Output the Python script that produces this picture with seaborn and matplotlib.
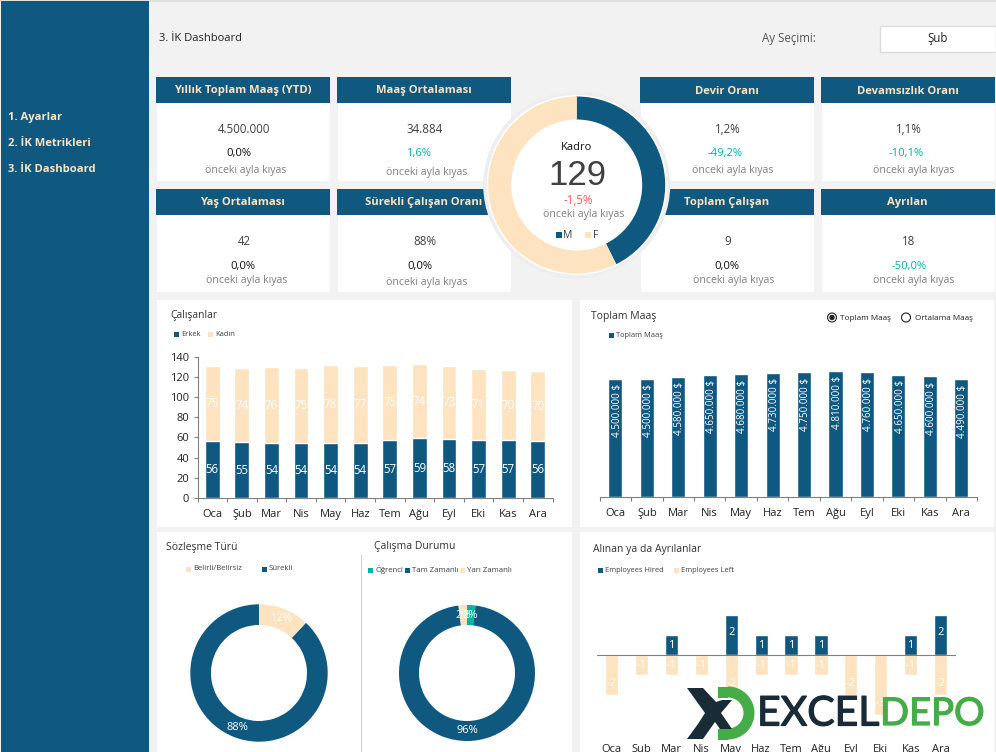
import matplotlib
matplotlib.use("Agg")
import matplotlib.pyplot as plt
from matplotlib.patches import Rectangle, Circle, Wedge, Polygon
import matplotlib.patheffects as pe
import seaborn as sns
import pandas as pd

# ---- data ----
months = ["Oca", "Şub", "Mar", "Nis", "May", "Haz", "Tem", "Ağu", "Eyl", "Eki", "Kas", "Ara"]
erkek = [56, 55, 54, 54, 54, 54, 57, 59, 58, 57, 57, 56]
kadin = [75, 74, 76, 75, 78, 77, 75, 74, 73, 71, 70, 70]
toplam_maas = [4500000, 4500000, 4580000, 4650000, 4680000, 4730000, 4750000, 4810000, 4760000, 4650000, 4600000, 4490000]
hired = [0, 0, 1, 0, 2, 1, 1, 1, 0, 0, 1, 2]
left_emp = [-2, -1, -1, -1, -2, -1, -1, -1, -2, -3, -1, -2]
kadro_vals = [55, 74]
sozlesme_vals = [12, 88]
calisma_vals = [2, 96, 2]
card_titles = ["Yıllık Toplam Maaş (YTD)", "Maaş Ortalaması", "Devir Oranı", "Devamsızlık Oranı",
               "Yaş Ortalaması", "Sürekli Çalışan Oranı", "Toplam Çalışan", "Ayrılan"]
card_values = ["4.500.000", "34.884", "1,2%", "1,1%", "42", "88%", "9", "18"]
card_deltas = ["0,0%", "1,6%", "-49,2%", "-10,1%", "0,0%", "0,0%", "0,0%", "-50,0%"]
note = "önceki ayla kıyas"

# ---- style ----
NAVY = "#0f5880"
CREAM = "#fde3c0"
TEAL = "#00b3a4"
BG = "#f2f2f2"
GREY = "#808080"
TXT = "#404040"
sns.set_theme(style="white")
plt.rcParams["font.family"] = ["Open Sans", "DejaVu Sans"]

W, H = 996, 752
fig = plt.figure(figsize=(W / 100, H / 100), dpi=100, facecolor=BG)


def px_axes(x0, y0, x1, y1, **kw):
    return fig.add_axes([x0 / W, 1 - y1 / H, (x1 - x0) / W, (y1 - y0) / H], **kw)


bg = px_axes(0, 0, W, H, zorder=0)
bg.set_xlim(0, W); bg.set_ylim(H, 0); bg.axis("off")
fg = px_axes(0, 0, W, H, zorder=20)
fg.set_xlim(0, W); fg.set_ylim(H, 0); fg.axis("off"); fg.patch.set_alpha(0)


def rect(ax, x0, y0, x1, y1, color, **kw):
    ax.add_patch(Rectangle((x0, y0), x1 - x0, y1 - y0, facecolor=color, edgecolor="none", **kw))


def txt(ax, x, y, s, size=8, color=TXT, ha="center", weight="normal", **kw):
    return ax.text(x, y + 1, s, fontsize=size, color=color, ha=ha, va="center", fontweight=weight, **kw)


def legend_item(x, y, color, label, size=5.4, sq=5):
    rect(fg, x, y - sq / 2, x + sq, y + sq / 2, color)
    txt(fg, x + sq + 2, y - 1, label, size=size, ha="left")


# page chrome
rect(bg, 0, 0, W, 1.5, "#e0e0e0")
rect(bg, 1, 1, 149, H, NAVY)
for y, s in zip([116.5, 142.5, 168.5], ["1. Ayarlar", "2. İK Metrikleri", "3. İK Dashboard"]):
    txt(bg, 8, y, s, size=8.1, color=CREAM, ha="left", weight="bold")
txt(bg, 159, 37.5, "3. İK Dashboard", size=8.0, color="#222222", ha="left")
txt(bg, 762, 37.5, "Ay Seçimi:", size=8.3, color="#555555", ha="left")
bg.add_patch(Rectangle((879.5, 25.5), 116, 26, facecolor="white", edgecolor="#dcdcdc", lw=1))
txt(bg, 938, 37.5, months[1], size=8.3, color="#222222")

# KPI cards
card_x = [(156, 330), (337, 511), (640, 814), (821, 995)] * 2
card_y = [(77, 103, 181)] * 4 + [(189, 215, 292)] * 4
val_x = [244, 425, 728, 909, 244, 425, 728, 909]
val_y = [128.5] * 4 + [240.5] * 4
delta_x = [239, 419, 725, 906, 243, 420, 727, 909]
delta_y = [152.5] * 4 + [265.5] * 4
note_x = [246, 427, 733, 914, 247, 427, 734, 914]
note_y = [170, 172, 169, 170, 280, 281, 279, 279]
for i in range(8):
    x0, x1 = card_x[i]
    yt, ym, yb = card_y[i]
    rect(bg, x0 + 1, ym, x1, yb, "white")
    rect(bg, x0, yt, x1, ym, NAVY)
    txt(bg, (x0 + x1) / 2 - 0.5, (yt + ym) / 2, card_titles[i], size=8.1, color=CREAM, weight="bold")
    txt(bg, val_x[i], val_y[i], card_values[i], size=8.3)
    d = card_deltas[i]
    col = "#111111" if d == "0,0%" else TEAL
    txt(bg, delta_x[i], delta_y[i], d, size=8.1, color=col)
    txt(bg, note_x[i], note_y[i], note, size=7.6, color=GREY)

# panels
for p in [(157, 300, 572, 527), (580, 300, 994, 527), (157, 532, 572, 752), (580, 532, 994, 752)]:
    rect(bg, p[0], p[1], p[2], p[3], "white")
rect(bg, 360.5, 555, 361.7, 752, "#d0d0d0")

# central donut
bg.add_patch(Circle((576.7, 185), 93.5, facecolor="#eeeeee", edgecolor="none"))
bg.add_patch(Circle((576.7, 185), 90, facecolor="white", edgecolor="none"))
ax_k = px_axes(576.7 - 88.5, 185 - 88.5, 576.7 + 88.5, 185 + 88.5, zorder=5)
ax_k.pie(kadro_vals, colors=[NAVY, CREAM], startangle=90, counterclock=False, radius=1,
         wedgeprops=dict(width=1 - 65.5 / 88.5, linewidth=0))
ax_k.set_xlim(-1, 1); ax_k.set_ylim(-1, 1)
txt(fg, 577, 146.5, "Kadro", size=8.0, color="#111111")
txt(fg, 577, 174.5, str(sum(kadro_vals)), size=25, color="#404040", family="Liberation Sans")
txt(fg, 578, 199.5, "-1,5%", size=8.3, color="#ff5a5a")
txt(fg, 584, 213.5, note, size=7.6, color=GREY)
legend_item(556, 235, NAVY, "M", size=7.6, sq=5.5)
legend_item(585, 235, CREAM, "F", size=7.6, sq=5.5)


def boundary_ticks(ax, n):
    ax.set_xticks([i - 0.5 for i in range(n + 1)], minor=True)
    ax.tick_params(axis="x", which="minor", bottom=True, length=3, width=0.8, color=GREY)
    ax.tick_params(axis="x", which="major", bottom=False, length=0, pad=8, labelsize=8, labelcolor="#222222")


# Çalışanlar stacked bars
ax1 = px_axes(197.5, 356.7, 552.5, 498, zorder=5)
total = [a + b for a, b in zip(erkek, kadin)]
sns.barplot(x=months, y=total, color=CREAM, saturation=1, width=0.5, ax=ax1)
sns.barplot(x=months, y=erkek, color=NAVY, saturation=1, width=0.5, ax=ax1)
for i, (a, b) in enumerate(zip(erkek, kadin)):
    ax1.text(i, a / 2, str(a), color="white", ha="center", va="center", fontsize=8.3)
    ax1.text(i, a + b / 2, str(b), color="white", ha="center", va="center", fontsize=8.3)
ax1.set_ylim(0, 140); ax1.set_xlim(-0.5, 11.5)
ax1.set_yticks(range(0, 141, 20))
ax1.tick_params(axis="y", left=True, length=3, width=0.8, color=GREY, pad=3, labelsize=8, labelcolor="#222222")
boundary_ticks(ax1, 12)
sns.despine(ax=ax1)
for s in ["left", "bottom"]:
    ax1.spines[s].set_color(GREY); ax1.spines[s].set_linewidth(0.8)
ax1.patch.set_alpha(0)
txt(fg, 170, 314.5, "Çalışanlar", size=7.4, ha="left", color="#333333")
legend_item(174, 334.5, NAVY, "Erkek")
legend_item(208, 334.5, CREAM, "Kadın")

# Toplam Maaş bars
ax2 = px_axes(599.7, 339.5, 977, 497, zorder=5)
sns.barplot(x=months, y=toplam_maas, color=NAVY, saturation=1, width=0.45, ax=ax2)
for i, v in enumerate(toplam_maas):
    ax2.annotate(f"{v:,}".replace(",", ".") + " $", xy=(i, v), xytext=(1.2, -4), textcoords="offset points",
                 rotation=90, ha="center", va="top", color="white", fontsize=7.1)
ax2.set_ylim(0, 6000000); ax2.set_xlim(-0.5, 11.5)
ax2.set_yticks([])
boundary_ticks(ax2, 12)
sns.despine(ax=ax2, left=True)
ax2.spines["bottom"].set_color(GREY); ax2.spines["bottom"].set_linewidth(0.8)
ax2.patch.set_alpha(0)
txt(fg, 591, 315, "Toplam Maaş", size=7.5, ha="left", color="#333333")
legend_item(609, 335.5, NAVY, "Toplam Maaş", sq=4.5)
fg.add_patch(Circle((832, 317.5), 4.5, facecolor="white", edgecolor="#222222", lw=0.8))
fg.add_patch(Circle((832, 317.5), 2.7, facecolor="#222222", edgecolor="none"))
fg.add_patch(Circle((906, 317.5), 4.5, facecolor="white", edgecolor="#222222", lw=0.8))
txt(fg, 840, 317, "Toplam Maaş", size=5.9, ha="left", color="#222222")
txt(fg, 915, 317, "Ortalama Maaş", size=5.9, ha="left", color="#222222")


# doughnuts
def donut(cx, cy, r, rin, vals, colors):
    ax = px_axes(cx - r, cy - r, cx + r, cy + r, zorder=5)
    ax.pie(vals, colors=colors, startangle=90, counterclock=False, radius=1,
           autopct="%d%%", pctdistance=(r + rin) / 2 / r,
           wedgeprops=dict(width=1 - rin / r, linewidth=0),
           textprops=dict(color="white", fontsize=8.0))
    ax.set_xlim(-1, 1); ax.set_ylim(-1, 1)
    return ax


donut(259, 673, 68.7, 48, sozlesme_vals, [CREAM, NAVY])
donut(467, 673, 68, 48, calisma_vals, [TEAL, NAVY, CREAM])
txt(fg, 166, 546.5, "Sözleşme Türü", size=7.5, ha="left", color="#333333")
txt(fg, 374, 545.5, "Çalışma Durumu", size=7.5, ha="left", color="#333333")
legend_item(186, 569, CREAM, "Belirli/Belirsiz", size=5.6)
legend_item(262, 569, NAVY, "Sürekli", size=5.6)
legend_item(368, 570, TEAL, "Öğrenci", size=5.6)
legend_item(405, 570, NAVY, "Tam Zamanlı", size=5.6)
legend_item(460, 570, CREAM, "Yarı Zamanlı", size=5.6)

# Alınan ya da Ayrılanlar
ax3 = px_axes(596.7, 575, 955.5, 755, zorder=5)
df3 = pd.DataFrame({"ay": months, "hired": hired, "left": left_emp})
sns.barplot(data=df3, x="ay", y="left", color=CREAM, saturation=1, width=0.44, ax=ax3)
sns.barplot(data=df3, x="ay", y="hired", color=NAVY, saturation=1, width=0.44, ax=ax3)
ax3.set_xlim(-0.5, 11.5); ax3.set_ylim(-4.985, 4.015)
ax3.axhline(0, color=GREY, lw=0.8)
for i, (h, l) in enumerate(zip(hired, left_emp)):
    if h:
        ax3.text(i, h / 2 + (0.14 if h == 2 else 0), str(h), color="white", ha="center", va="center", fontsize=8.0)
    ax3.text(i, l / 2 if abs(l) < 2 else l + 0.57, str(l), color="white",
             ha="center", va="center", fontsize=8.0)
    ax3.text(i, -4.72, months[i], color="#222222", ha="center", va="center", fontsize=8)
ax3.set_xticks([]); ax3.set_yticks([]); ax3.set_xlabel(""); ax3.set_ylabel("")
sns.despine(ax=ax3, left=True, bottom=True)
ax3.patch.set_alpha(0)
txt(fg, 593, 548.5, "Alınan ya da Ayrılanlar", size=7.5, ha="left", color="#333333")
legend_item(598, 570, NAVY, "Employees Hired")
legend_item(674, 570, CREAM, "Employees Left")

# watermark logo
DARK = "#1a2b38"
GREEN = "#46ac47"
fg.add_patch(Wedge((728, 713), 26.5, -90, 90, width=11, facecolor=GREEN, edgecolor="none"))
rect(fg, 718, 686.5, 728, 697.5, GREEN)
rect(fg, 718, 728.5, 728, 739.5, GREEN)
fg.add_patch(Polygon([(687, 688), (703, 688), (716, 702), (722, 700), (732, 700), (721, 713), (732, 729),
                      (720, 729), (715, 722), (703, 739), (687, 739), (698, 724), (705, 713)],
                     closed=True, facecolor=DARK, edgecolor="none"))
thick = [pe.withStroke(linewidth=0.9, foreground=DARK)]
thick_g = [pe.withStroke(linewidth=0.9, foreground=GREEN)]
txt(fg, 757, 713, "EXCEL", size=29.5, color=DARK, ha="left", family="Lato", path_effects=thick)
txt(fg, 880, 713, "DEPO", size=27.5, color=GREEN, ha="left", family="Lato", path_effects=thick_g)

fig.savefig("out.png", dpi=100, facecolor=BG)
